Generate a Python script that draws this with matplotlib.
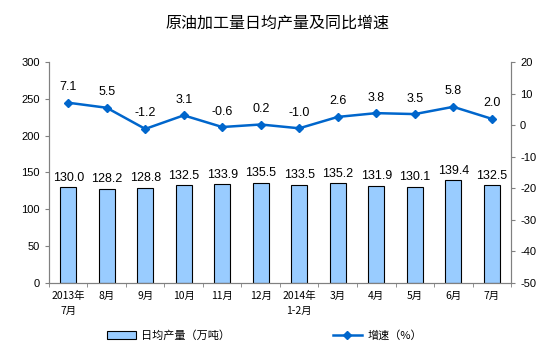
import matplotlib
matplotlib.use("Agg")
import matplotlib.pyplot as plt
import numpy as np

plt.rcParams['font.family'] = ['Noto Sans CJK SC', 'DejaVu Sans']
plt.rcParams['axes.unicode_minus'] = False

# data
months = ["2013年\n7月", "8月", "9月", "10月", "11月", "12月", "2014年\n1-2月",
          "3月", "4月", "5月", "6月", "7月"]
output = [130.0, 128.2, 128.8, 132.5, 133.9, 135.5, 133.5, 135.2, 131.9, 130.1, 139.4, 132.5]
growth = [7.1, 5.5, -1.2, 3.1, -0.6, 0.2, -1.0, 2.6, 3.8, 3.5, 5.8, 2.0]

fig = plt.figure(figsize=(5.54, 3.53), dpi=100)
ax = fig.add_axes([0.0884, 0.1983, 0.8340, 0.6261])
ax2 = ax.twinx()

x = np.arange(len(months))
bars = ax.bar(x, output, width=0.42, color="#99CCFF", edgecolor="black", linewidth=0.8,
              label="日均产量（万吨）", zorder=2)
for xi, v in zip(x, output):
    ax.text(xi, v + 5, "%.1f" % v, ha="center", va="bottom", fontsize=9,
            family="Liberation Sans")

line, = ax2.plot(x, growth, color="#0066CC", linewidth=1.8, marker="D", markersize=4,
                 label="增速（%）", zorder=3)
for xi, v in zip(x, growth):
    ax2.text(xi, v + 3, "%.1f" % v, ha="center", va="bottom", fontsize=9,
             family="Liberation Sans")

ax.set_xlim(-0.5, len(months) - 0.5)
ax.set_ylim(0, 300)
ax.set_yticks(range(0, 301, 50))
ax2.set_ylim(-50, 20)
ax2.set_yticks(range(-50, 21, 10))

ax.set_xticks(x)
ax.set_xticklabels(months, fontsize=7.5, linespacing=1.6)
ax.set_xticks(np.arange(-0.5, len(months), 1), minor=True)
ax.tick_params(axis="x", which="major", length=0, pad=6)
ax.tick_params(axis="x", which="minor", length=3, color="#808080")
ax.tick_params(axis="y", labelsize=8, length=3, color="#808080")
ax2.tick_params(axis="y", labelsize=8, length=3, color="#808080")
for lab in ax.get_yticklabels() + ax2.get_yticklabels():
    lab.set_family("Liberation Sans")

for a in (ax, ax2):
    a.spines["top"].set_visible(False)
    for s in ("left", "right", "bottom"):
        a.spines[s].set_color("#808080")

fig.text(0.5, 0.935, "原油加工量日均产量及同比增速", ha="center", va="center", fontsize=11.5)

fig.legend([bars, line], ["日均产量（万吨）", "增速（%）"], loc="center left", ncol=2,
           bbox_to_anchor=(0.175, 0.05), frameon=False, fontsize=8, columnspacing=9.2,
           handlelength=2.6, handletextpad=0.5)

fig.savefig("out.png", dpi=100)
